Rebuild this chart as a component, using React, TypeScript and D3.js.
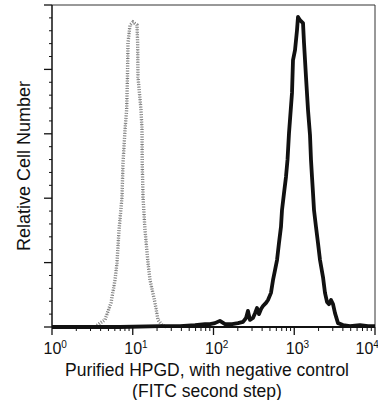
import React from "react";
import * as d3 from "d3";

// Fluorescence intensity (log scale) vs relative cell number (0-100)
const negIntensity = [3.41, 3.93, 4.53, 5.38, 6.03, 6.38, 6.76, 7.36, 7.57, 8.02, 8.4, 8.6, 8.73, 9.25, 10.07, 11.29, 11.5, 11.61, 12.65, 13.02, 13.1, 13.4, 14.18, 15.45, 16.36, 18.86, 20.54, 23.02, 25.8];
const negCount = [0, 1.2, 2.2, 7.5, 14.6, 19.9, 30.1, 40.4, 50.9, 61.2, 67.4, 77.6, 88.2, 93.8, 94.7, 93.8, 88.2, 77.6, 67.4, 61.2, 50.9, 40.4, 30.1, 19.9, 14.6, 7.5, 2.2, 0.6, 0];

const hpgdIntensity = [1, 6.95, 21.8, 38.5, 59, 78.5, 90.5, 104, 120, 139, 170, 201, 232, 253, 267, 283, 308, 327, 346, 366, 388, 410, 447, 473, 515, 546, 578, 612, 647, 685, 705, 747, 790, 825, 861, 938, 965, 1022, 1082, 1113, 1178, 1284, 1321, 1398, 1480, 1567, 1612, 1659, 1707, 1757, 1859, 1968, 2084, 2270, 2403, 2544, 2694, 2852, 3020, 3196, 3482, 4015, 4903, 6518, 8191, 10000];
const hpgdCount = [0, 0, 0.3, 0.3, 0.6, 0.9, 0.9, 1.2, 1.9, 0.9, 0.9, 1.2, 1.6, 2.8, 5.0, 2.2, 2.8, 4.3, 5.9, 4.0, 5.6, 6.5, 7.5, 8.4, 10.6, 14.6, 17.7, 20.8, 26.1, 31.1, 36.3, 41.6, 46.6, 51.9, 60.2, 72.7, 82.9, 86.0, 92.2, 96.3, 95.3, 94.4, 88.2, 77.6, 67.4, 59.6, 51.9, 46.6, 41.6, 36.3, 31.1, 26.1, 20.8, 15.5, 10.6, 7.8, 7.1, 8.4, 7.1, 4.3, 1.2, 0.6, 0.3, 0.6, 0.3, 0.3];

const xTickExponents = [0, 1, 2, 3, 4];
const yMajorTicks = [0, 20, 40, 60, 80, 100];
const xTitle1 = "Purified HPGD, with negative control";
const xTitle2 = "(FITC second step)";
const yTitle = "Relative Cell Number";

export default function App() {
  const W = 378, H = 400;
  const left = 52, right = 375, top = 5, bottom = 327;
  const x = d3.scaleLog().domain([1, 10000]).range([left, right]);
  const y = d3.scaleLinear().domain([0, 100]).range([bottom, top]);
  const font = "'Liberation Sans', Arial, Helvetica, sans-serif";

  const line = d3.line<[number, number]>().x(d => x(d[0])).y(d => y(d[1]));
  const negPts = negIntensity.map((v, i) => [v, negCount[i]] as [number, number]);
  const hpgdPts = hpgdIntensity.map((v, i) => [v, hpgdCount[i]] as [number, number]);

  const minorX: number[] = [];
  for (let e = 0; e < 4; e++) for (let m = 2; m <= 9; m++) minorX.push(m * Math.pow(10, e));
  const minorY = d3.range(0, 101, 4).filter(v => v % 20 !== 0);

  return (
    <svg width={W} height={H} style={{ position: "absolute", left: 0, top: 0, background: "#fff" }} fontFamily={font}>
      {/* frame */}
      <line x1={left} x2={right} y1={top} y2={top} stroke="#333" strokeWidth={1} />
      <line x1={right} x2={right} y1={top} y2={bottom} stroke="#333" strokeWidth={1} />
      {/* curves */}
      <path d={line(negPts) || ""} fill="none" stroke="#7a7a7a" strokeWidth={3.4} strokeDasharray="1 1.5" />
      <path d={line(negPts) || ""} fill="none" stroke="#aaa" strokeWidth={1.5} strokeDasharray="0.8 2" strokeDashoffset={1} />
      <path d={line(hpgdPts) || ""} fill="none" stroke="#111" strokeWidth={3.8} strokeLinejoin="round" />
      {/* axes */}
      <line x1={left} x2={left} y1={top} y2={bottom} stroke="#111" strokeWidth={1.5} />
      <line x1={left} x2={right} y1={bottom} y2={bottom} stroke="#111" strokeWidth={2} />
      {yMajorTicks.map(t => (
        <line key={"ym" + t} x1={left - 8} x2={left} y1={y(t)} y2={y(t)} stroke="#111" strokeWidth={1.3} />
      ))}
      {minorY.map(t => (
        <line key={"yn" + t} x1={left - 3} x2={left} y1={y(t)} y2={y(t)} stroke="#111" strokeWidth={1} />
      ))}
      {xTickExponents.map(e => (
        <line key={"xm" + e} x1={x(Math.pow(10, e))} x2={x(Math.pow(10, e))} y1={bottom} y2={bottom + 8} stroke="#111" strokeWidth={1.3} />
      ))}
      {minorX.map(v => (
        <line key={"xn" + v} x1={x(v)} x2={x(v)} y1={bottom} y2={bottom + 4} stroke="#111" strokeWidth={1} />
      ))}
      {xTickExponents.map(e => {
        const cx = x(Math.pow(10, e)) - (e === 4 ? 11 : 0);
        return (
          <text key={"xl" + e} x={cx - 8.5} y={354} fontSize={16} fill="#111">
            10<tspan dy={-6} fontSize={10}>{e}</tspan>
          </text>
        );
      })}
      <text x={207} y={376} textAnchor="middle" fontSize={17.5} fill="#111">{xTitle1}</text>
      <text x={207} y={397} textAnchor="middle" fontSize={17.5} fill="#111">{xTitle2}</text>
      <text transform={`translate(30,${(top + bottom) / 2}) rotate(-90)`} textAnchor="middle" fontSize={18} fill="#111">{yTitle}</text>
    </svg>
  );
}
